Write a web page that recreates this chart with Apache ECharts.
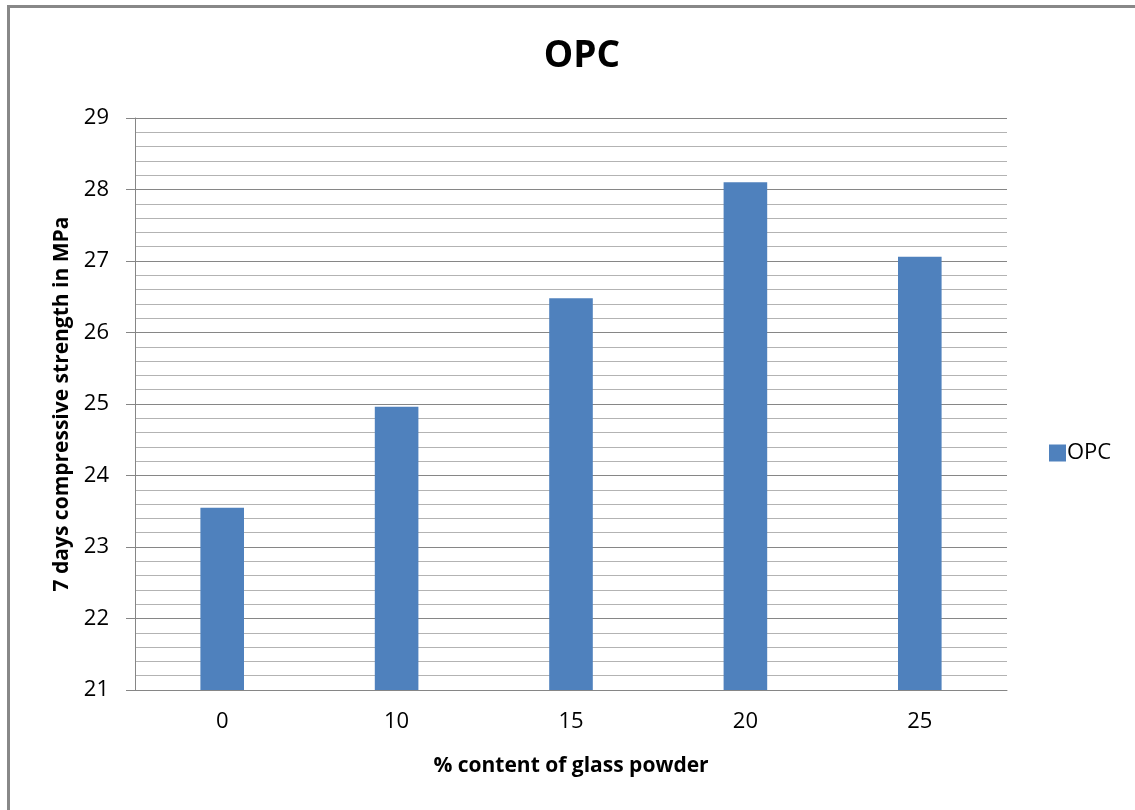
<!DOCTYPE html>
<html>
<head>
<meta charset="utf-8">
<script src="https://cdn.jsdelivr.net/npm/echarts@6/dist/echarts.min.js"></script>
<style>
html,body{margin:0;padding:0;background:#fff;}
#chart{width:1135px;height:810px;}
</style>
</head>
<body>
<div id="chart"></div>
<script>
const categories = ['0', '10', '15', '20', '25'];
const opcValues = [23.55, 24.96, 26.48, 28.1, 27.06];
const seriesName = 'OPC';
const titleText = 'OPC';
const xAxisTitle = '% content of glass powder';
const yAxisTitle = '7 days compressive strength in MPa';
const yMin = 21, yMax = 29, yStep = 1;

const FONT = '"Open Sans", "Liberation Sans", sans-serif';
const chart = echarts.init(document.getElementById('chart'), null, {renderer: 'canvas'});
chart.setOption({
  backgroundColor: '#ffffff',
  animation: false,
  graphic: [{
    type: 'rect',
    shape: {x: 8.5, y: 6.5, width: 1300, height: 1000},
    style: {fill: 'none', stroke: '#888888', lineWidth: 3},
    silent: true
  }],
  title: {
    text: titleText,
    left: 577, top: 33, textAlign: 'center',
    textStyle: {fontFamily: FONT, fontSize: 37, fontWeight: 'bold', color: '#000'}
  },
  legend: {
    data: [seriesName],
    left: 1044, top: 437,
    orient: 'vertical',
    icon: 'rect', itemWidth: 17, itemHeight: 17, itemGap: 4,
    textStyle: {fontFamily: FONT, fontSize: 22, color: '#000', padding: [0,0,0,-4]}
  },
  grid: {left: 135, right: 128, top: 118, bottom: 120, containLabel: false},
  xAxis: {
    type: 'category',
    data: categories,
    name: xAxisTitle,
    nameLocation: 'middle',
    nameGap: 66,
    nameTextStyle: {fontFamily: FONT, fontSize: 21, fontWeight: 'bold', color: '#000'},
    axisLine: {show: true, lineStyle: {color: '#868686', width: 1}},
    axisTick: {show: false},
    axisLabel: {fontFamily: FONT, fontSize: 22, color: '#000', margin: 21}
  },
  yAxis: {
    type: 'value',
    min: yMin, max: yMax, interval: yStep,
    name: yAxisTitle,
    nameLocation: 'middle',
    nameGap: 62,
    nameTextStyle: {fontFamily: FONT, fontSize: 21, fontWeight: 'bold', color: '#000'},
    axisLine: {show: true, lineStyle: {color: '#868686', width: 1}},
    axisTick: {show: true, length: 9, lineStyle: {color: '#868686'}},
    axisLabel: {fontFamily: FONT, fontSize: 22, color: '#000', margin: 26},
    splitLine: {show: true, lineStyle: {color: '#868686', width: 1}},
    minorTick: {show: false, splitNumber: 5},
    minorSplitLine: {show: true, lineStyle: {color: '#b3b3b3', width: 1}}
  },
  series: [{
    name: seriesName,
    type: 'bar',
    data: opcValues,
    barWidth: '25%',
    itemStyle: {color: '#4f81bd'}
  }]
});
</script>
</body>
</html>
